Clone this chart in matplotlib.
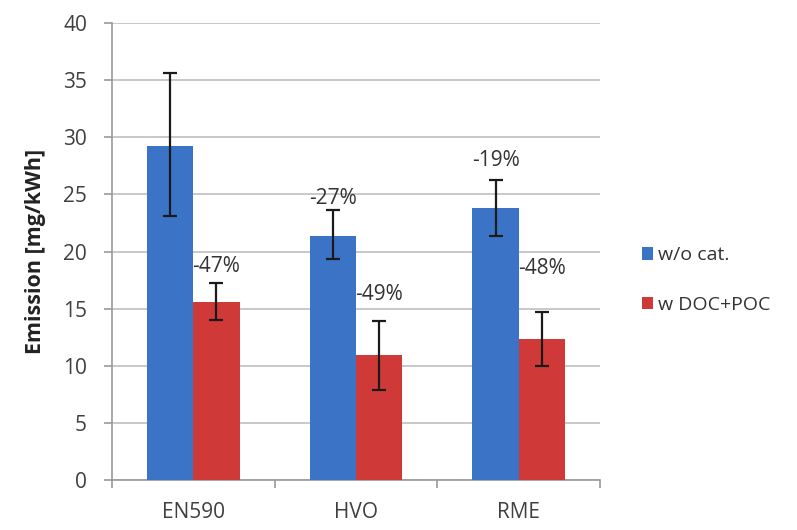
import matplotlib
matplotlib.use("Agg")
import matplotlib.pyplot as plt
import numpy as np

categories = ["EN590", "HVO", "RME"]
series_names = ["w/o cat.", "w DOC+POC"]
wo_cat = [29.2, 21.4, 23.8]
wo_cat_lo = [23.1, 19.3, 21.4]
wo_cat_hi = [35.6, 23.6, 26.3]
doc_poc = [15.6, 10.9, 12.3]
doc_poc_lo = [14.0, 7.9, 10.0]
doc_poc_hi = [17.2, 13.9, 14.7]
wo_labels = ["", "-27%", "-19%"]
wo_label_y = [0, 24.6, 28.0]
doc_labels = ["-47%", "-49%", "-48%"]
doc_label_y = [18.7, 16.2, 18.5]
yticks = [0, 5, 10, 15, 20, 25, 30, 35, 40]

plt.rcParams['font.family'] = ['Open Sans', 'DejaVu Sans']

fig = plt.figure(figsize=(7.97, 5.30), dpi=100)
ax = fig.add_axes([112/797, 1-480/530, (600-112)/797, (480-23)/530])

x = np.arange(len(categories))
w = 0.284
blue = "#3b74c6"
red = "#cf3a38"

yerr1 = [np.array(wo_cat) - np.array(wo_cat_lo), np.array(wo_cat_hi) - np.array(wo_cat)]
yerr2 = [np.array(doc_poc) - np.array(doc_poc_lo), np.array(doc_poc_hi) - np.array(doc_poc)]

ax.bar(x - w/2, wo_cat, w, color=blue, label=series_names[0], zorder=3,
       yerr=yerr1, error_kw=dict(ecolor="#1a1a1a", elinewidth=1.6, capsize=5, capthick=1.6, zorder=4))
ax.bar(x + w/2, doc_poc, w, color=red, label=series_names[1], zorder=3,
       yerr=yerr2, error_kw=dict(ecolor="#1a1a1a", elinewidth=1.6, capsize=5, capthick=1.6, zorder=4))

for i in range(len(categories)):
    if wo_labels[i]:
        ax.text(x[i] - w/2, wo_label_y[i], wo_labels[i], ha="center", va="center",
                fontsize=15, color="#333333", zorder=5)
    ax.text(x[i] + w/2, doc_label_y[i], doc_labels[i], ha="center", va="center",
            fontsize=15, color="#333333", zorder=5)

ax.set_xlim(-0.5, 2.5)
ax.set_ylim(0, 40)
ax.set_yticks(yticks)
ax.set_yticklabels([str(t) for t in yticks], fontsize=15, color="#404040")
ax.set_xticks(x)
ax.set_xticklabels(categories, fontsize=15, color="#404040")
ax.tick_params(axis="x", length=0, pad=16)
ax.set_xticks([-0.5, 0.5, 1.5, 2.5], minor=True)
ax.tick_params(axis="x", which="minor", length=6, color="#999999", width=1.2)
ax.tick_params(axis="y", length=6, color="#999999", width=1.2, pad=12)

ax.grid(axis="y", color="#c8c8c8", linewidth=1.4, zorder=0)
for s in ["top", "right"]:
    ax.spines[s].set_visible(False)
for s in ["left", "bottom"]:
    ax.spines[s].set_color("#999999")
    ax.spines[s].set_linewidth(1.2)

ax.set_ylabel("Emission [mg/kWh]", fontsize=15.5, fontweight="bold", color="#222222", labelpad=12)

leg = fig.legend(loc="center left", bbox_to_anchor=(624/797, 1-280/530), frameon=False,
                 fontsize=14, handlelength=0.6, handleheight=0.6, handletextpad=0.25,
                 labelspacing=1.6)
for t in leg.get_texts():
    t.set_color("#333333")

fig.savefig("out.png", dpi=100)
